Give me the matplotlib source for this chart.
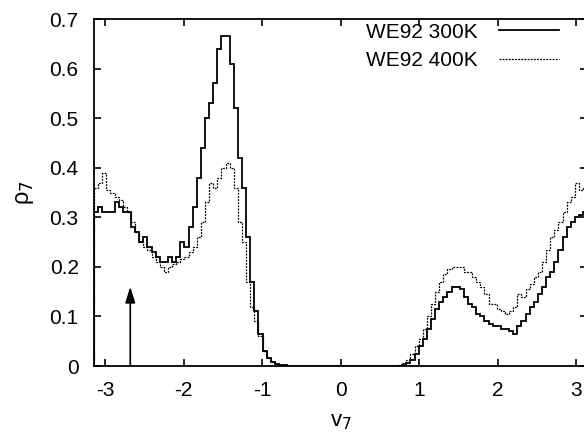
import numpy as np
import matplotlib
matplotlib.use("Agg")
import matplotlib.pyplot as plt

plt.rcParams['font.family'] = ['Liberation Sans', 'DejaVu Sans']
plt.rcParams['axes.unicode_minus'] = False

# histogram of v7 (120 bins of 3 degrees from -pi to pi)
n_bins = 120
edges = np.linspace(-np.pi, np.pi, n_bins + 1)

# WE92 300K, left part (bins 0..47), zero gap, right part (bins 73..119)
rho_300_left = [0.31, 0.32, 0.31, 0.31, 0.31, 0.33, 0.32, 0.31, 0.31, 0.28,
                0.27, 0.25, 0.26, 0.24, 0.23, 0.22, 0.21, 0.21, 0.22, 0.21,
                0.22, 0.25, 0.24, 0.28, 0.32, 0.38, 0.44, 0.50, 0.53, 0.57,
                0.64, 0.665, 0.665, 0.61, 0.52, 0.42, 0.36, 0.26, 0.17, 0.11,
                0.065, 0.03, 0.016, 0.008, 0.005, 0.003, 0.002, 0.001]
rho_300_right = [0.0, 0.0, 0.002, 0.006, 0.012, 0.025, 0.04, 0.055, 0.075, 0.095,
                 0.115, 0.13, 0.14, 0.15, 0.16, 0.16, 0.155, 0.14, 0.125, 0.12,
                 0.105, 0.10, 0.09, 0.085, 0.08, 0.08, 0.075, 0.075, 0.07, 0.065,
                 0.08, 0.09, 0.105, 0.12, 0.13, 0.145, 0.16, 0.18, 0.19, 0.21,
                 0.235, 0.26, 0.28, 0.29, 0.30, 0.305, 0.31]

# WE92 400K
rho_400_left = [0.36, 0.37, 0.39, 0.355, 0.35, 0.34, 0.335, 0.32, 0.31, 0.29,
                0.27, 0.25, 0.24, 0.235, 0.22, 0.21, 0.20, 0.19, 0.20, 0.205,
                0.21, 0.215, 0.22, 0.23, 0.24, 0.26, 0.29, 0.33, 0.37, 0.36,
                0.38, 0.40, 0.41, 0.40, 0.36, 0.29, 0.25, 0.17, 0.12, 0.09,
                0.06, 0.03, 0.016, 0.009, 0.005, 0.003, 0.002, 0.001]
rho_400_right = [0.001, 0.003, 0.007, 0.012, 0.025, 0.04, 0.055, 0.075, 0.10, 0.125,
                 0.15, 0.17, 0.185, 0.195, 0.20, 0.20, 0.20, 0.19, 0.19, 0.18,
                 0.17, 0.16, 0.145, 0.125, 0.125, 0.115, 0.11, 0.105, 0.11, 0.12,
                 0.145, 0.14, 0.155, 0.165, 0.18, 0.19, 0.21, 0.235, 0.26, 0.275,
                 0.29, 0.31, 0.33, 0.34, 0.37, 0.355, 0.36]

def full(left, right):
    gap = n_bins - len(left) - len(right)
    return np.array(left + [0.0] * gap + right)

rho_300 = full(rho_300_left, rho_300_right)
rho_400 = full(rho_400_left, rho_400_right)

arrow_x = -2.68
arrow_top = 0.16

fig = plt.figure(figsize=(5.84, 4.33), dpi=100)
ax = fig.add_axes([0.161, 0.1547, 0.8445, 0.8013])

ax.stairs(rho_300, edges, color='black', lw=1.3, label='WE92 300K')
ax.stairs(rho_400, edges, color='black', lw=0.9, linestyle=(0, (1.5, 1)), label='WE92 400K')

ax.annotate('', xy=(arrow_x, arrow_top), xytext=(arrow_x, 0),
            arrowprops=dict(arrowstyle='-|>,head_width=0.25,head_length=0.8',
                            lw=1.2, color='black',
                            mutation_scale=12, shrinkA=0, shrinkB=0))

ax.set_xlim(-np.pi, np.pi)
ax.set_ylim(0, 0.7)
ax.set_xticks([-3, -2, -1, 0, 1, 2, 3])
ax.set_yticks([0, 0.1, 0.2, 0.3, 0.4, 0.5, 0.6, 0.7])
ax.set_yticklabels(['0', '0.1', '0.2', '0.3', '0.4', '0.5', '0.6', '0.7'])
ax.tick_params(direction='in', top=True, right=True, length=5, width=1.2,
               labelsize=15)
ax.tick_params(axis='x', pad=11)
ax.tick_params(axis='y', pad=11)
for s in ax.spines.values():
    s.set_linewidth(1.3)

ax.set_xlabel('v$_7$', fontsize=16, labelpad=8)
ax.set_ylabel('ρ$_7$', fontsize=17, labelpad=10)

ax.legend(loc='upper right', frameon=False, markerfirst=False, fontsize=15,
          handlelength=2.9, handletextpad=1.0, labelspacing=0.45,
          borderpad=0, borderaxespad=0,
          bbox_to_anchor=(0.943, 0.99))

fig.savefig('out.png', dpi=100)
